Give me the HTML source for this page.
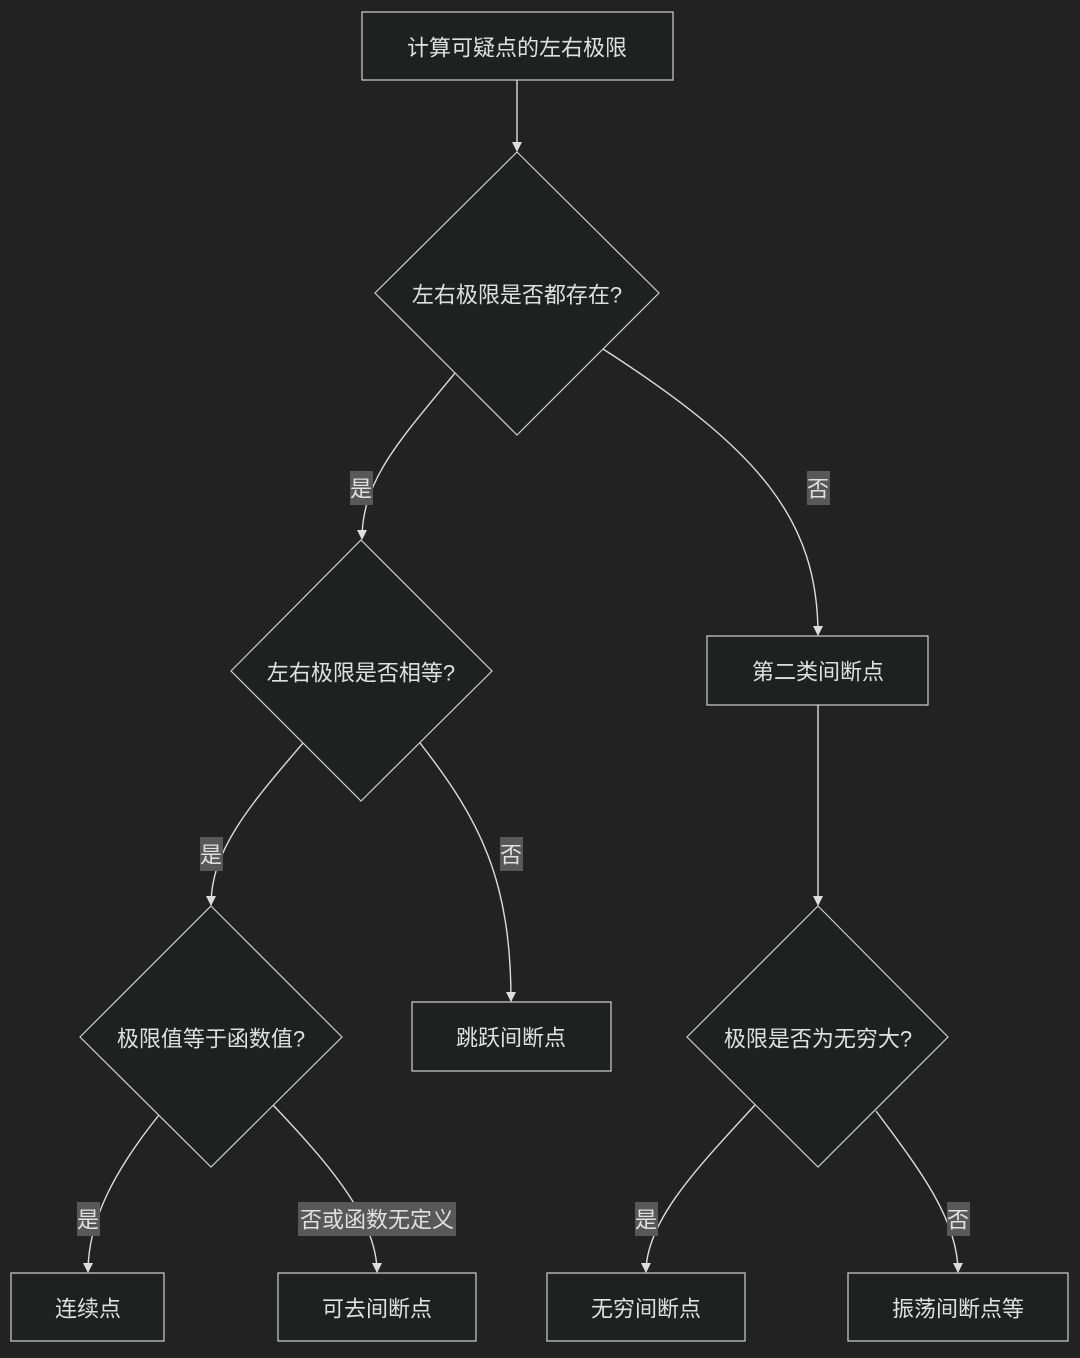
<!DOCTYPE html>
<html><head><meta charset="utf-8"><style>
html,body{margin:0;padding:0;background:#222222;}
svg text{font-family:"Liberation Sans","Noto Sans CJK SC",sans-serif;font-size:22px;fill:#e0e0e0;text-anchor:middle;dominant-baseline:central;}
</style></head><body>
<svg width="1080" height="1353" viewBox="0 0 1080 1353" xmlns="http://www.w3.org/2000/svg">
<defs><marker id="a" viewBox="0 0 10 10" refX="9" refY="5" markerWidth="10" markerHeight="10" markerUnits="userSpaceOnUse" orient="auto"><path d="M0,0L10,5L0,10z" fill="#ddd"/></marker></defs>
<rect width="1080" height="1353" fill="#222"/>
<g fill="none" stroke="#ddd" stroke-width="1.4" marker-end="url(#a)">
<path d="M517,80 L517,151"/>
<path d="M455,373 C400,440 362,480 362,539"/>
<path d="M603,349 C760,450 818,520 818,635"/>
<path d="M818,705 L818,905"/>
<path d="M303,743 C250,805 211,850 211,905"/>
<path d="M420,743 C480,820 511,880 511,1001"/>
<path d="M159,1115 C115,1170 88,1220 88,1272"/>
<path d="M273,1105 C330,1165 377,1220 377,1272"/>
<path d="M755,1105 C700,1165 646,1220 646,1272"/>
<path d="M876,1111 C920,1170 958,1220 958,1272"/>
</g>
<g fill="#1f2020" stroke="#d0d0d0" stroke-width="1.2">
<rect x="362" y="12" width="311" height="68"/>
<polygon points="517,152 659,293 517,435 375,293"/>
<polygon points="361,540 492,671 361,801 231,671"/>
<rect x="707" y="636" width="221" height="69"/>
<polygon points="818,906 948,1037 818,1167 687,1037"/>
<polygon points="211,906 342,1037 211,1167 80,1037"/>
<rect x="412" y="1002" width="199" height="69"/>
<rect x="11" y="1273" width="153" height="68"/>
<rect x="278" y="1273" width="198" height="68"/>
<rect x="547" y="1273" width="198" height="68"/>
<rect x="848" y="1273" width="220" height="68"/>
</g>
<g fill="#585858">
<rect x="350" y="471" width="23" height="34"/>
<rect x="807" y="471" width="23" height="34"/>
<rect x="200" y="837" width="23" height="34"/>
<rect x="500" y="837" width="23" height="34"/>
<rect x="77" y="1202" width="23" height="34"/>
<rect x="298" y="1202" width="158" height="34"/>
<rect x="635" y="1202" width="23" height="34"/>
<rect x="947" y="1202" width="23" height="34"/>
</g>
<text x="517" y="48">计算可疑点的左右极限</text>
<text x="517" y="295">左右极限是否都存在?</text>
<text x="361" y="673">左右极限是否相等?</text>
<text x="818" y="672">第二类间断点</text>
<text x="818" y="1039">极限是否为无穷大?</text>
<text x="211" y="1039">极限值等于函数值?</text>
<text x="511" y="1038">跳跃间断点</text>
<text x="88" y="1309">连续点</text>
<text x="377" y="1309">可去间断点</text>
<text x="646" y="1309">无穷间断点</text>
<text x="958" y="1309">振荡间断点等</text>
<text x="361" y="489">是</text>
<text x="818" y="489">否</text>
<text x="211" y="855">是</text>
<text x="511" y="855">否</text>
<text x="88" y="1220">是</text>
<text x="377" y="1220">否或函数无定义</text>
<text x="646" y="1220">是</text>
<text x="958" y="1220">否</text>
</svg>
</body></html>
